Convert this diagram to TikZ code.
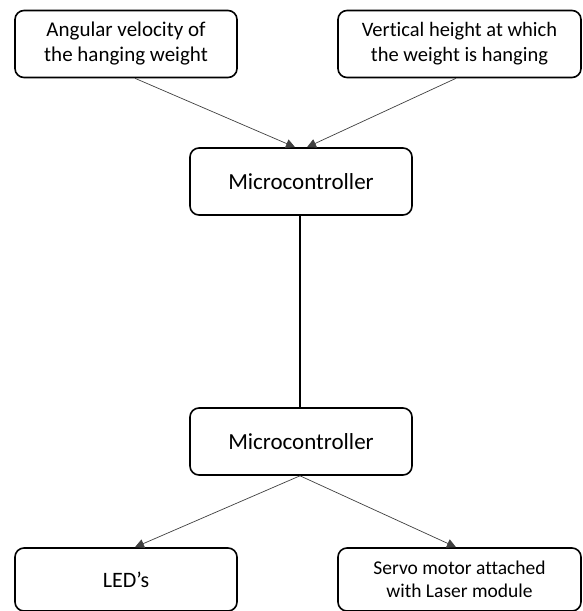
\documentclass[tikz,border=0pt]{standalone}
\usepackage{fontspec}
\setmainfont[Ligatures={NoCommon}]{Carlito}
\usetikzlibrary{arrows.meta}
\begin{document}
\begin{tikzpicture}[x=1pt,y=-1pt,
  box/.style={draw=black, line width=1.6pt, rounded corners=9pt, align=center, inner sep=0pt},
  conn/.style={draw=black!75, line width=0.7pt},
  arr/.style={conn, -{Triangle[length=9pt,width=9pt]}}]
\useasboundingbox[fill=white] (0,0) rectangle (583,611);
\node[box, minimum width=222pt, minimum height=67pt, font=\fontsize{21}{25}\selectfont] (a) at (126,44) {Angular velocity of\\the hanging weight};
\node[box, minimum width=243pt, minimum height=67pt, font=\fontsize{20.5}{25}\selectfont] (b) at (459.5,44) {Vertical height at which\\the weight is hanging};
\node[box, minimum width=222pt, minimum height=67pt, font=\fontsize{23}{27}\selectfont] (m1) at (301,181.5) {Microcontroller};
\node[box, minimum width=222pt, minimum height=67pt, font=\fontsize{23}{27}\selectfont] (m2) at (301,441.5) {Microcontroller};
\node[box, minimum width=222pt, minimum height=63pt, font=\fontsize{22}{26}\selectfont] (led) at (126,579.5) {LED’s};
\node[box, minimum width=243pt, minimum height=63pt, font=\fontsize{19.5}{23.5}\selectfont] (servo) at (459.5,579.5) {Servo motor attached\\with Laser module};
\draw[arr] ([xshift=9pt]a.south) -- ([xshift=-6pt]m1.north);
\draw[arr] ([xshift=-3.5pt]b.south) -- ([xshift=6pt]m1.north);
\draw[conn, draw=black, line width=1.6pt] ([xshift=-1pt]m1.south) -- ([xshift=-1pt]m2.north);
\draw[arr] ([xshift=-1pt]m2.south) -- ([xshift=9pt]led.north);
\draw[arr] ([xshift=-1pt]m2.south) -- ([xshift=-3.5pt]servo.north);
\end{tikzpicture}
\end{document}
